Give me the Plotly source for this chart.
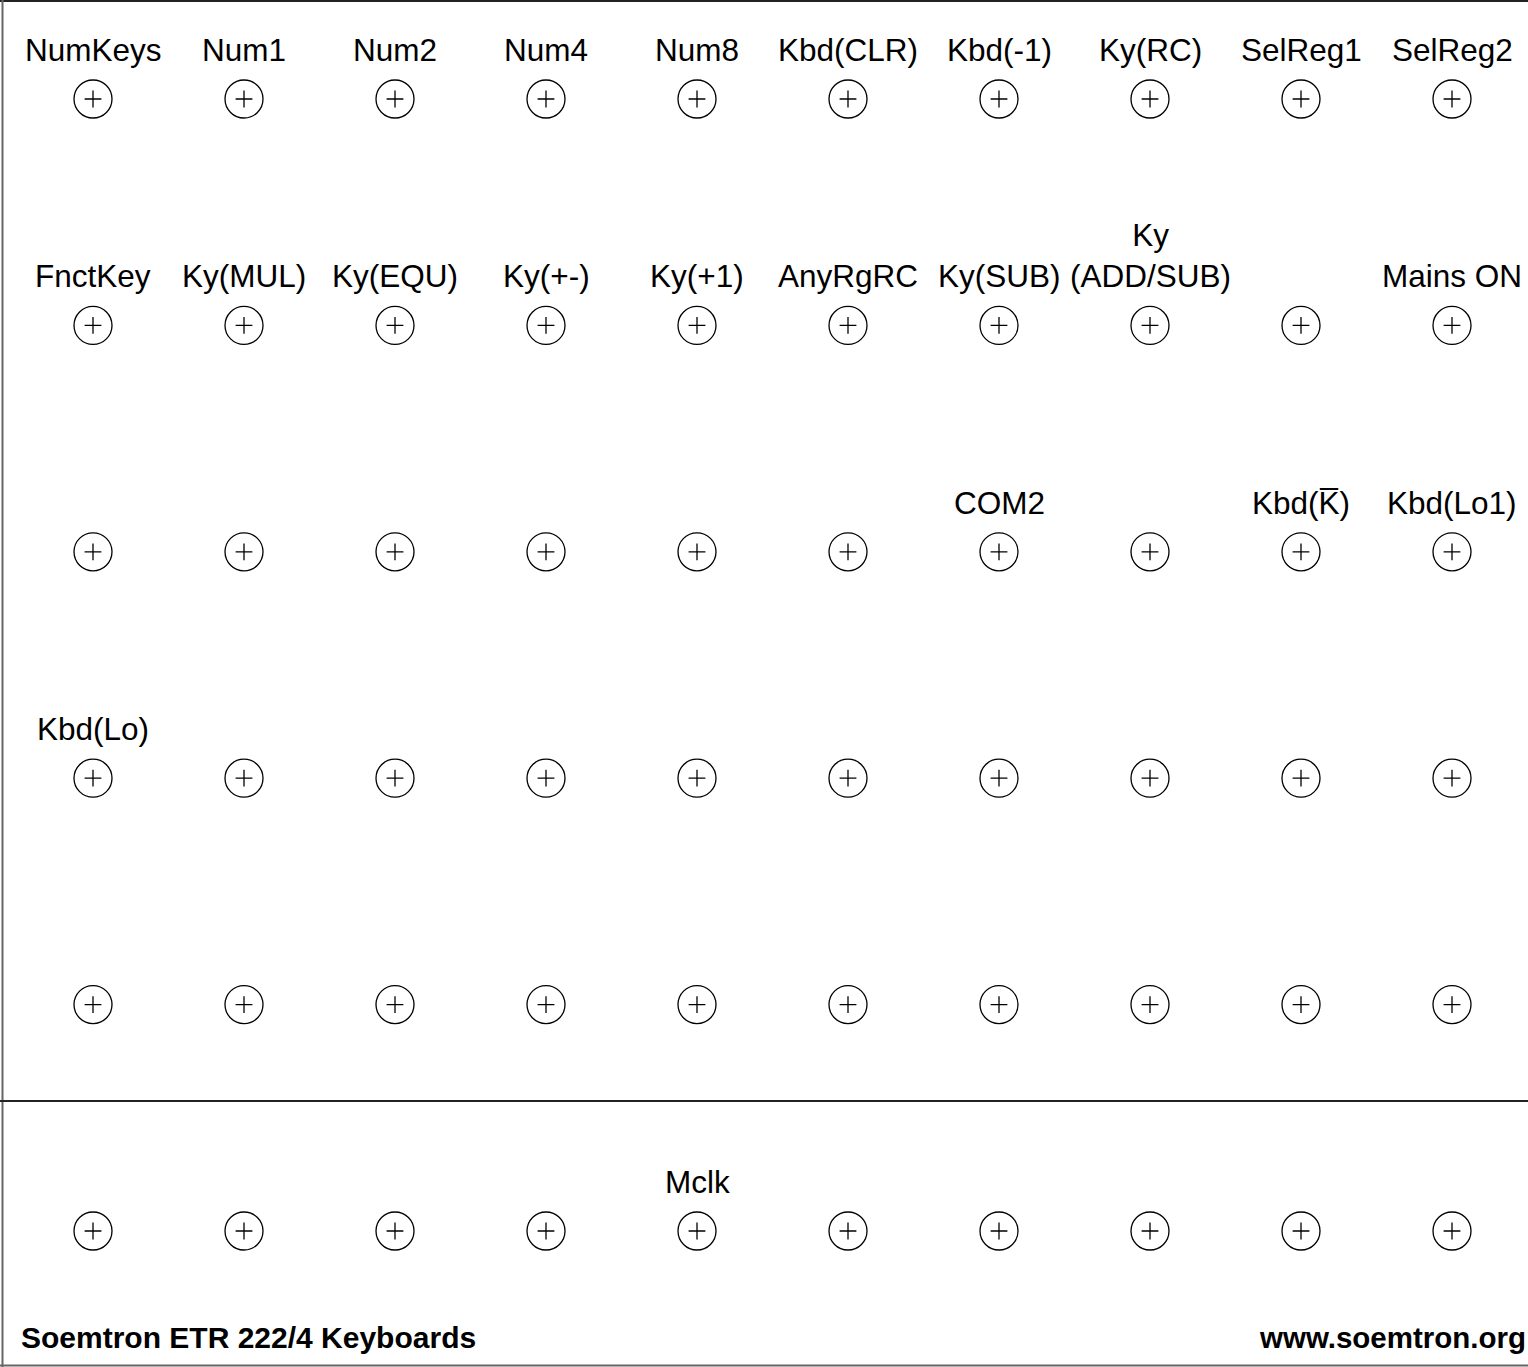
import plotly.graph_objects as go

# ---- data ----
n_cols = 10
n_rows = 6
label_text = [
    "NumKeys", "Num1", "Num2", "Num4", "Num8", "Kbd(CLR)", "Kbd(-1)", "Ky(RC)", "SelReg1", "SelReg2",
    "FnctKey", "Ky(MUL)", "Ky(EQU)", "Ky(+-)", "Ky(+1)", "AnyRgRC", "Ky(SUB)", "Ky<br>(ADD/SUB)", "Mains ON",
    "COM2", "Kbd(K\u0305)", "Kbd(Lo1)",
    "Kbd(Lo)",
    "Mclk",
]
label_col = [0, 1, 2, 3, 4, 5, 6, 7, 8, 9,
             0, 1, 2, 3, 4, 5, 6, 7, 9,
             6, 8, 9,
             0,
             4]
label_row = [0, 0, 0, 0, 0, 0, 0, 0, 0, 0,
             1, 1, 1, 1, 1, 1, 1, 1, 1,
             2, 2, 2,
             3,
             5]
title_left = "Soemtron ETR 222/4 Keyboards"
title_right = "www.soemtron.org"

# ---- figure ----
W, H = 1528, 1367
xs = [c for r in range(n_rows) for c in range(n_cols)]
ys = [r for r in range(n_rows) for c in range(n_cols)]

fig = go.Figure()
fig.add_trace(go.Scatter(
    x=xs, y=ys, mode="markers", hoverinfo="skip", showlegend=False,
    marker=dict(symbol="circle-open", size=38, color="black", line=dict(width=1.3, color="black")),
))
fig.add_trace(go.Scatter(
    x=xs, y=ys, mode="markers", hoverinfo="skip", showlegend=False,
    marker=dict(symbol="cross-thin-open", size=12, color="black", line=dict(width=1.3, color="black")),
))

font = dict(family="Liberation Sans, Arial, sans-serif", size=31.5, color="black")
for t, c, r in zip(label_text, label_col, label_row):
    fig.add_annotation(x=c, y=r, text=t, showarrow=False, font=font,
                       xanchor="center", yanchor="bottom", yshift=29)

fig.add_annotation(xref="paper", yref="paper", x=19 / W, y=1 - 1337 / H, text="<b>" + title_left + "</b>",
                   showarrow=False, xanchor="left", yanchor="middle",
                   font=dict(family="Liberation Sans, Arial, sans-serif", size=30, color="black"))
fig.add_annotation(xref="paper", yref="paper", x=1528 / W, y=1 - 1337 / H, text="<b>" + title_right + "</b>",
                   showarrow=False, xanchor="right", yanchor="middle",
                   font=dict(family="Liberation Sans, Arial, sans-serif", size=29.5, color="black"))

# frame lines
line_dark = dict(color="#222222", width=2)
line_grey = dict(color="#666666", width=2)
fig.add_shape(type="line", xref="paper", yref="paper", x0=0, x1=1, y0=1 - 1 / H, y1=1 - 1 / H, line=line_dark)
fig.add_shape(type="line", xref="paper", yref="paper", x0=2.5 / W, x1=2.5 / W, y0=0, y1=1, line=line_grey)
fig.add_shape(type="line", xref="paper", yref="paper", x0=0, x1=1, y0=1 - 1365.5 / H, y1=1 - 1365.5 / H, line=line_grey)
fig.add_shape(type="line", xref="paper", yref="paper", x0=0, x1=1, y0=1 - 1101 / H, y1=1 - 1101 / H, line=line_dark)

col_px0, col_step = 93.0, 151.0
row_px0, row_step = 99.0, 226.4
fig.update_xaxes(range=[-col_px0 / col_step, (W - col_px0) / col_step], visible=False, fixedrange=True)
fig.update_yaxes(range=[(H - row_px0) / row_step, -row_px0 / row_step], visible=False, fixedrange=True)
fig.update_layout(width=W, height=H, margin=dict(l=0, r=0, t=0, b=0),
                  plot_bgcolor="white", paper_bgcolor="white", showlegend=False)

fig.write_html("out.html", config={"displayModeBar": False},
               post_script="document.body.style.margin='0';document.body.style.overflow='hidden';")
